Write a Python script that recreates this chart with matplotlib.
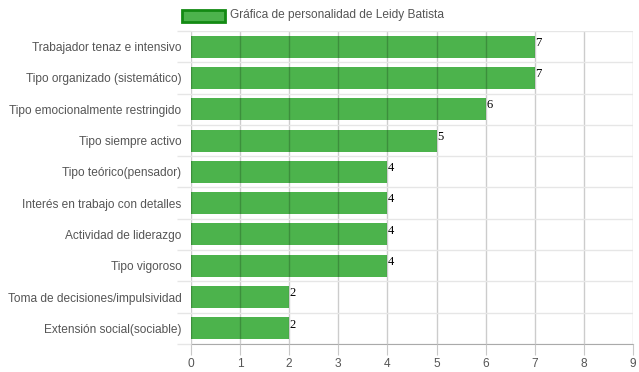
import matplotlib.pyplot as plt
import matplotlib.patches as patches
import numpy as np

categories = [
    "Trabajador tenaz e intensivo",
    "Tipo organizado (sistemático)",
    "Tipo emocionalmente restringido",
    "Tipo siempre activo",
    "Tipo teórico(pensador)",
    "Interés en trabajo con detalles",
    "Actividad de liderazgo",
    "Tipo vigoroso",
    "Toma de decisiones/impulsividad",
    "Extensión social(sociable)",
]
values = [7, 7, 6, 5, 4, 4, 4, 4, 2, 2]
x_ticks = list(range(0, 10))
series_name = "Gráfica de personalidad de Leidy Batista"

plt.rcParams['font.family'] = ['Liberation Sans', 'DejaVu Sans']

fig = plt.figure(figsize=(6.39, 3.72), dpi=100)
ax = fig.add_axes([191/639, 28/372, 442/639, 313/372])

y = np.arange(len(categories))
ax.barh(y, values, height=0.7, color='#4cb34c', zorder=2)

for yi, v in zip(y, values):
    ax.text(v + 0.01, yi - 0.12, str(v), family='Liberation Serif',
            fontsize=9, color='black', va='center', ha='left', zorder=4)

ax.set_xlim(0, 9)
ax.set_ylim(len(categories) - 0.5, -0.5)
ax.set_xticks(x_ticks)
ax.set_yticks(y)
ax.set_yticklabels(categories)
ax.set_yticks(np.arange(-0.5, len(categories), 1), minor=True)

ax.tick_params(axis='y', which='major', length=0, pad=7, labelsize=8.6, labelcolor='#555555')
ax.tick_params(axis='y', which='minor', length=10, color='#e6e6e6', width=1)
ax.tick_params(axis='x', length=8, color='#c8c8c8', labelsize=8.6, labelcolor='#555555', pad=2)

ax.grid(axis='x', color='#000000', alpha=0.2, linewidth=1, zorder=3)
ax.grid(axis='y', which='minor', color='#e6e6e6', linewidth=1, zorder=1)
ax.set_axisbelow(False)

for s in ['top', 'right', 'left']:
    ax.spines[s].set_visible(False)
ax.spines['bottom'].set_color('#aaaaaa')

# legend in chart.js style
fig.patches.append(patches.Rectangle((182/639, 1 - 22/372), 43/639, 12/372,
                                     transform=fig.transFigure, facecolor='#4cb34c',
                                     edgecolor='#138a13', linewidth=2))
fig.text(230/639, 1 - 15/372, series_name, fontsize=8.6, color='#555555', va='center', ha='left')

fig.savefig('out.png', dpi=100)
